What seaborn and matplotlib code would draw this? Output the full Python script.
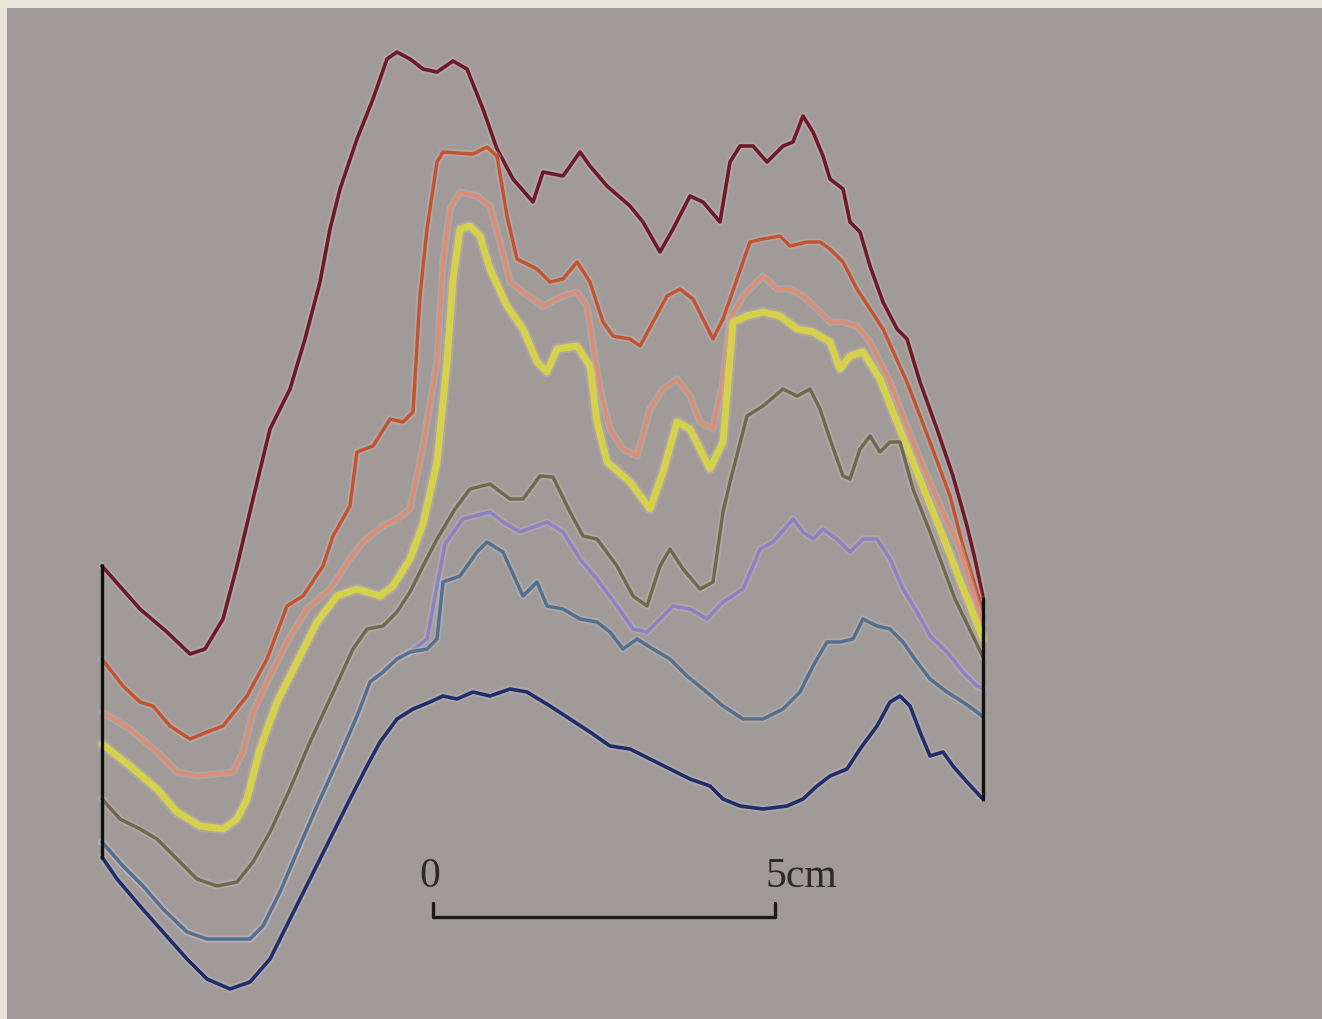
import numpy as np
import pandas as pd
import matplotlib
matplotlib.use("Agg")
import matplotlib.pyplot as plt
import matplotlib.patheffects as pe
import seaborn as sns

# ---- Data: profile traces (distance along section, depth below top), image units ----
red_x = [102,140,167,190,205,223,237,253,270,290,305,320,330,340,357,373,387,397,410,423,437,453,467,483,497,513,533,543,563,580,590,607,630,643,660,673,690,703,720,730,740,753,767,783,793,803,813,823,830,843,850,860,870,883,897,907,920,937,953,967,975,983]
red_y = [567,610,633,655,650,620,567,500,430,390,340,283,230,190,140,100,60,53,60,70,73,62,70,110,150,180,203,173,177,153,167,187,207,223,253,230,197,203,223,163,147,147,163,147,143,117,133,157,180,190,223,233,267,303,330,340,383,430,477,527,560,598]

orange_x = [102,123,140,153,170,190,207,223,247,267,287,303,323,333,350,357,373,390,403,413,420,427,437,443,473,487,497,507,517,537,550,563,577,590,603,613,630,640,653,667,680,693,703,713,723,737,750,763,780,790,807,820,830,843,857,870,883,907,930,950,963,983]
orange_y = [660,687,703,707,727,740,733,727,697,660,607,597,567,537,507,453,447,420,423,413,297,230,163,153,155,148,157,217,260,270,283,280,263,283,323,337,340,347,323,297,290,300,320,340,320,280,243,240,237,247,243,243,250,263,290,310,330,383,443,497,547,612]

salmon_x = [102,130,157,177,197,233,243,253,270,287,307,330,350,363,383,397,410,423,437,443,450,460,477,490,500,510,523,543,563,577,587,593,600,610,623,637,650,663,677,690,700,713,723,730,743,763,777,790,803,817,830,843,857,870,890,913,937,960,983]
salmon_y = [713,730,753,773,777,773,753,713,677,643,610,590,560,543,527,520,510,447,363,263,210,193,197,207,243,283,293,307,297,293,307,347,390,430,450,457,410,390,380,397,423,430,383,320,297,277,290,290,297,310,323,323,327,343,383,443,500,550,626]

yellow_x = [102,130,157,177,200,223,237,247,260,277,297,317,337,357,380,393,410,423,437,447,453,460,470,480,490,507,523,537,547,557,577,590,597,607,630,650,663,677,690,710,723,733,747,763,780,797,813,830,840,850,863,880,897,917,940,983]
yellow_y = [745,767,790,813,827,830,820,800,750,703,663,623,597,590,597,587,560,525,463,363,280,230,227,237,270,307,330,363,373,350,347,367,423,463,483,510,473,423,430,470,443,323,317,313,317,330,333,343,370,357,353,380,423,473,530,640]

olive_x = [102,120,140,157,177,197,217,237,253,270,290,310,330,353,367,383,397,410,423,437,455,470,490,510,523,540,553,570,583,597,617,633,647,660,670,683,700,713,723,730,747,763,783,797,810,820,830,843,850,860,870,880,890,900,913,930,955,983]
olive_y = [800,820,830,840,860,880,887,883,863,833,790,743,700,650,630,627,613,593,567,540,510,490,485,500,500,477,478,513,537,540,567,597,607,567,550,570,590,583,513,483,417,407,390,397,390,410,440,477,480,450,437,453,443,443,490,533,600,658]

lavender_x = [102,123,143,163,187,207,230,250,263,280,297,317,337,357,370,383,397,410,427,445,463,490,503,520,547,563,580,597,617,633,647,660,673,690,707,723,743,753,760,773,787,793,803,813,823,837,850,863,877,890,903,917,930,947,963,977,983]
lavender_y = [843,867,887,910,933,940,940,940,927,893,853,807,763,717,683,673,660,653,640,545,520,513,523,533,523,533,560,580,607,630,633,620,607,610,620,603,590,567,550,543,527,520,533,540,530,540,553,540,540,560,590,613,637,653,673,687,690]

steel_x = [102,123,143,163,187,207,230,250,263,280,297,317,337,357,370,383,397,410,427,437,443,460,477,487,503,523,537,547,563,580,597,610,623,637,653,670,687,703,723,743,763,783,800,813,827,840,853,863,877,890,903,917,930,947,963,977,983]
steel_y = [843,867,887,910,933,940,940,940,927,893,853,807,763,717,683,673,660,653,650,640,583,577,553,543,553,597,583,607,610,620,623,633,650,640,650,660,677,690,707,720,720,710,693,667,643,643,640,620,627,630,643,663,680,693,703,713,718]

navy_x = [102,117,140,163,187,207,230,250,270,290,310,330,350,367,380,397,413,430,443,457,473,490,510,527,550,570,590,610,630,650,670,690,710,723,740,763,787,803,817,830,847,860,877,890,900,910,920,930,943,953,967,980,983]
navy_y = [858,880,907,933,960,980,990,983,960,920,880,840,800,767,743,720,710,703,697,700,693,697,690,693,707,720,733,747,750,760,770,780,787,800,807,810,807,800,787,777,770,750,727,703,697,707,733,757,753,767,783,797,800]

section_edges_x = [102, 983]
section_edges_top = [565, 598]
section_edges_bottom = [860, 802]

scale_start, scale_end, scale_level = 433, 775, 918
scale_labels = ["0", "5cm"]

profiles = [
    ("red", red_x, red_y, "#6e1a2a", 2.6),
    ("orange", orange_x, orange_y, "#c4522c", 2.4),
    ("salmon", salmon_x, salmon_y, "#df8c70", 2.4),
    ("yellow", yellow_x, yellow_y, "#d6d14a", 5.0),
    ("olive", olive_x, olive_y, "#6b6a4c", 2.4),
    ("lavender", lavender_x, lavender_y, "#8a80c6", 2.4),
    ("steel", steel_x, steel_y, "#50708f", 2.4),
    ("navy", navy_x, navy_y, "#1f2f6c", 2.6),
]

# ---- Figure ----
sns.set_theme(style="white")
plt.rcParams["font.family"] = ["Liberation Serif", "DejaVu Serif"]

fig = plt.figure(figsize=(13.22, 10.20), dpi=100, facecolor="#e7e4d9")
ax = fig.add_axes([7 / 1322, 0, 1315 / 1322, 1011 / 1020])
ax.set_facecolor("#a09b98")

for name, xs, ys, col, lw in profiles:
    df = pd.DataFrame({"dist": xs, "depth": ys})
    sns.lineplot(data=df, x="dist", y="depth", sort=False, estimator=None,
                 color=col, linewidth=lw, ax=ax,
                 path_effects=[pe.Stroke(linewidth=lw + 3, foreground="#c9b9bd", alpha=0.35),
                               pe.Normal()])

# section edges
for sx, t, b in zip(section_edges_x, section_edges_top, section_edges_bottom):
    ax.plot([sx, sx], [t, b], color="#111111", linewidth=2.4, solid_capstyle="butt")

# scale bar
ax.plot([scale_start, scale_start, scale_end, scale_end],
        [scale_level - 14, scale_level, scale_level, scale_level - 14],
        color="#1a1a1a", linewidth=2.4)
ax.text(scale_start - 3, scale_level - 22, scale_labels[0], ha="center", va="bottom",
        fontsize=30, color="#2a2a2a")
ax.text(scale_end - 10, scale_level - 22, scale_labels[1], ha="left", va="bottom",
        fontsize=30, color="#2a2a2a")

ax.set_xlim(7, 1322)
ax.set_ylim(1020, 9)
ax.set_xticks([])
ax.set_yticks([])
ax.set_xlabel("")
ax.set_ylabel("")
for s in ax.spines.values():
    s.set_visible(False)

fig.savefig("out.png", dpi=100, facecolor=fig.get_facecolor())
